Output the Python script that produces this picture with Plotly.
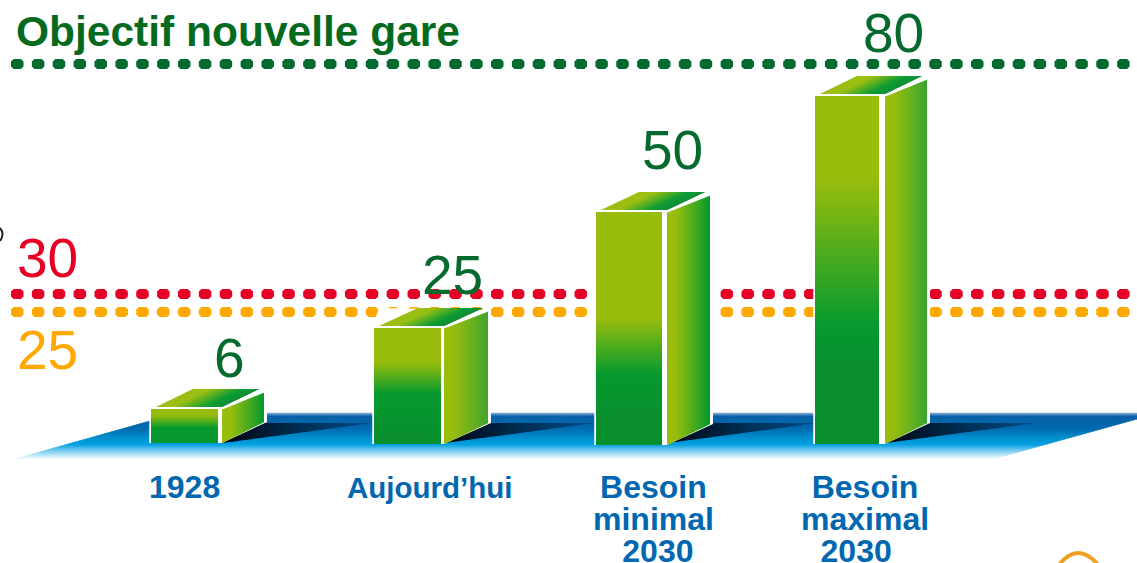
import plotly.graph_objects as go

# ---- data ----
categories = ["1928", "Aujourd’hui", "Besoin<br>minimal<br>2030", "Besoin<br>maximal<br>2030"]
values = [6, 25, 50, 80]
drawn_heights = [35, 116, 232, 348]          # the drawing is not to scale: heights as drawn
target_names = ["80", "30", "25"]
target_heights = [380, 150, 132]
title_text = "Objectif nouvelle gare"

# ---- layout / styles ----
W, H = 1137, 563
BASE_PX = 444
def py(p):
    return BASE_PX - p

OLIVE, GREEN, DARK = "#98bd0c", "#069a2e", "#08902f"
front_left = [151, 374, 596, 815]
front_right = [218, 441, 662, 879]
side_start = [222, 444, 667, 885]
side_stop = [264, 488, 710, 927]
base_px = [443, 444, 445, 444]
fade_start = [415, 362, 318, 180]
fade_end = [428, 394, 374, 325]
side_end = [GREEN, "#42a52e", GREEN, "#3aa52f"]
label_x = [229, 452, 672, 893]
label_y = [358, 275, 150, 33]
cat_x = [184, 430, 653, 865]
cat_y = [487, 487, 519, 519]
cat_size = [32, 29.5, 32, 32]
last_line_lead = ["", "", "\u00a0", ""]        # nudges the centred last line right ...
last_line_trail = ["", "", "", "\u00a0\u00a0"]  # ... or left
target_colors = ["#056a2d", "#e60026", "#ffa800"]
label_color = "#056a2d"
CAT_COLOR = "#0067b0"
SIDE_RISE, BOTTOM_RISE, TOP_RISE = 17, 21, 20
DOT_START, DOT_STEP, DOT_COUNT, DOT_W, DOT_H, DOT_CUT = 11, 20.87, 54, 12.5, 10, 2.6


def hex2rgb(c):
    return tuple(int(c[i:i + 2], 16) for i in (1, 3, 5))


def mix(a, b, t):
    t = max(0, min(1, t))
    ra, rb = hex2rgb(a), hex2rgb(b)
    return "#%02x%02x%02x" % tuple(round(x + (y - x) * t) for x, y in zip(ra, rb))


def stops(seq, p):
    if p <= seq[0][0]:
        return seq[0][1]
    for (p0, c0), (p1, c1) in zip(seq, seq[1:]):
        if p <= p1:
            return mix(c0, c1, (p - p0) / (p1 - p0))
    return seq[-1][1]


def poly(points, color, line=None, lw=0):
    path = "M " + " L ".join(f"{x:.2f} {y:.2f}" for x, y in points) + " Z"
    return dict(type="path", path=path, xref="x", yref="y", layer="below",
                fillcolor=color, line=dict(color=line or color, width=lw))


shapes = []

# dotted target lines, behind everything (octagonal dots, as in the print)
for h, c in zip(target_heights, target_colors):
    for k in range(DOT_COUNT):
        x = DOT_START + k * DOT_STEP
        l, r, t, b, q = x, x + DOT_W, h + DOT_H / 2, h - DOT_H / 2, DOT_CUT
        shapes.append(poly([(l + q, t), (r - q, t), (r, t - q), (r, b + q), (r - q, b), (l + q, b), (l, b + q), (l, t - q)], c))

# blue floor
floor_stops = [(413, "#7fa8d2"), (416, "#0a62a8"), (428, "#0069ad"), (438, "#0090d0"),
               (444, "#00a0e0"), (450, "#70c8ef"), (459, "#ffffff")]
def lx(y):
    return 15 + (459 - y) * 135 / 38
def rx(y):
    return 993 + (459 - y) * 144 / 40
for p in range(413, 459):
    shapes.append(poly([(lx(p), py(p)), (rx(p), py(p)), (rx(p + 1), py(p + 1)), (lx(p + 1), py(p + 1))],
                       stops(floor_stops, p), lw=0.5))

fig = go.Figure()

for i, (name, val, ht) in enumerate(zip(categories, values, drawn_heights)):
    x0, x1 = front_left[i], front_right[i]
    sx0, sx1 = side_start[i], side_stop[i]
    bp = BASE_PX - base_px[i]            # offset of the base from the common baseline
    top = ht
    depth = sx1 - sx0

    # shadow on the floor
    sh_len = 150
    step = 5
    for k in range(0, sh_len, step):
        a, b = sx0 + k, sx0 + k + step
        la = 1 + 20 * k / sh_len
        lb = 1 + 20 * (k + step) / sh_len
        shapes.append(poly([(a, 21), (b + 1, 21), (b + 1, lb), (a, la)],
                           mix("#000008", "#004f8a", (k / sh_len) ** 0.8), lw=0))

    # white halo around the block
    shapes.append(poly([(x0 - 1.5, bp), (sx0, bp), (sx1 + 3, bp + BOTTOM_RISE), (sx1 + 3, top + SIDE_RISE + 1),
                        (x0 + 5, top + TOP_RISE), (x0 - 1.5, top + 2)], "#ffffff"))

    # side face: 1 px strips overlapping the next one
    for a in range(sx0, sx1):
        b = min(a + 2, sx1)
        ub_a, ub_b = (a - sx0) / depth, (b - sx0) / depth
        t = (a - sx0) / (depth - 1)
        shapes.append(poly([(a, bp + ub_a * BOTTOM_RISE), (b, bp + ub_b * BOTTOM_RISE),
                            (b, top + ub_b * SIDE_RISE), (a, top + ub_a * SIDE_RISE)],
                           mix(OLIVE, side_end[i], (t - 0.2) / 0.8), lw=0))

    # top face, slanted strips
    fl = x0 + 5
    width = sx0 - fl
    run = depth - 5
    for a in range(fl, sx0):
        b = min(a + 2, sx0)
        t = (a - fl) / (width - 1)
        shapes.append(poly([(a, top + 2), (b, top + 2), (b + run, top + TOP_RISE), (a + run, top + TOP_RISE)],
                           stops([(0, OLIVE), (0.25, OLIVE), (0.75, GREEN), (1, "#0a8a30")], t), lw=0))
    # white ridge between top and side
    shapes.append(dict(type="line", xref="x", yref="y", layer="below", x0=sx0, y0=top + 0.5,
                       x1=sx1, y1=top + SIDE_RISE + 0.5, line=dict(color="#ffffff", width=2)))

    # front face: one white bar, then a stack of thin segments for the vertical gradient
    xc = (x0 + x1) / 2
    fig.add_trace(go.Bar(x=[xc], y=[top + 2 - bp], base=[bp], width=[x1 - x0 + 3], name=f"{name} ({val})",
                         marker=dict(color="#ffffff", line=dict(width=0)), showlegend=False,
                         hovertemplate=f"{val}<extra></extra>"))
    seg = 2
    bases, colors = [], []
    h = bp
    while h < top:
        p = BASE_PX - (h + seg / 2)
        bases.append(h)
        colors.append(stops([(fade_start[i], OLIVE), (fade_end[i], GREEN), (fade_end[i] + 40, DARK)], p))
        h += seg
    heights = [min(seg, top - b) for b in bases]
    fig.add_trace(go.Bar(x=[xc] * len(bases), y=heights, base=bases, width=[x1 - x0] * len(bases),
                         marker=dict(color=colors, line=dict(width=0)), showlegend=False, hoverinfo="skip"))

annotations = []


def text(x, y, s, color, size, bold=False):
    annotations.append(dict(x=x, y=py(y), xref="x", yref="y", text=f"<b>{s}</b>" if bold else s,
                            showarrow=False, xanchor="center", yanchor="middle",
                            font=dict(family="Liberation Sans", size=size, color=color)))


annotations.append(dict(x=14, y=py(31), xref="x", yref="y", text=f"<b>{title_text}</b>", showarrow=False,
                        xanchor="left", yanchor="middle",
                        font=dict(family="Liberation Sans", size=42.5, color="#056a1e")))
for v, x, y in zip(values, label_x, label_y):
    text(x, y, str(v), label_color, 55)
text(47, 258, target_names[1], target_colors[1], 55)
text(47, 350, target_names[2], target_colors[2], 55)

# category labels: the annotation's own font size sets the tight line spacing, the span the glyph size
for i, (name, x, y, size) in enumerate(zip(categories, cat_x, cat_y, cat_size)):
    lines = name.split("<br>")
    if len(lines) > 1:
        lines[-1] = last_line_lead[i] + lines[-1] + last_line_trail[i]
        inner = "<br>".join(f'<span style="font-size:{size}px"><b>{ln}</b></span>' for ln in lines)
        annotations.append(dict(x=x, y=py(y), xref="x", yref="y", text=inner, showarrow=False,
                                xanchor="center", yanchor="middle", align="center",
                                font=dict(family="Liberation Sans", size=24.5, color=CAT_COLOR)))
    else:
        text(x, y, lines[0], CAT_COLOR, size, bold=True)

# stray fragments of neighbouring artwork at the page edges
shapes.append(dict(type="path", path=f"M 1058 {py(566)} Q 1078 {py(540)} 1099 {py(566)}", xref="x", yref="y",
                   layer="below", line=dict(color="#f0a020", width=4)))
shapes.append(dict(type="path", path=f"M 0 {py(228)} Q 5 {py(234)} 0 {py(241)}", xref="x", yref="y",
                   layer="below", line=dict(color="#222222", width=2)))

fig.update_layout(
    width=W, height=H, margin=dict(l=0, r=0, t=0, b=0), barmode="overlay", showlegend=False,
    plot_bgcolor="#ffffff", paper_bgcolor="#ffffff", shapes=shapes, annotations=annotations,
    xaxis=dict(range=[0, W], visible=False, fixedrange=True),
    yaxis=dict(range=[py(H), py(0)], visible=False, fixedrange=True),
)
fig.write_html("out.html", config={"displayModeBar": False},
               post_script="document.body.style.margin='0';")
